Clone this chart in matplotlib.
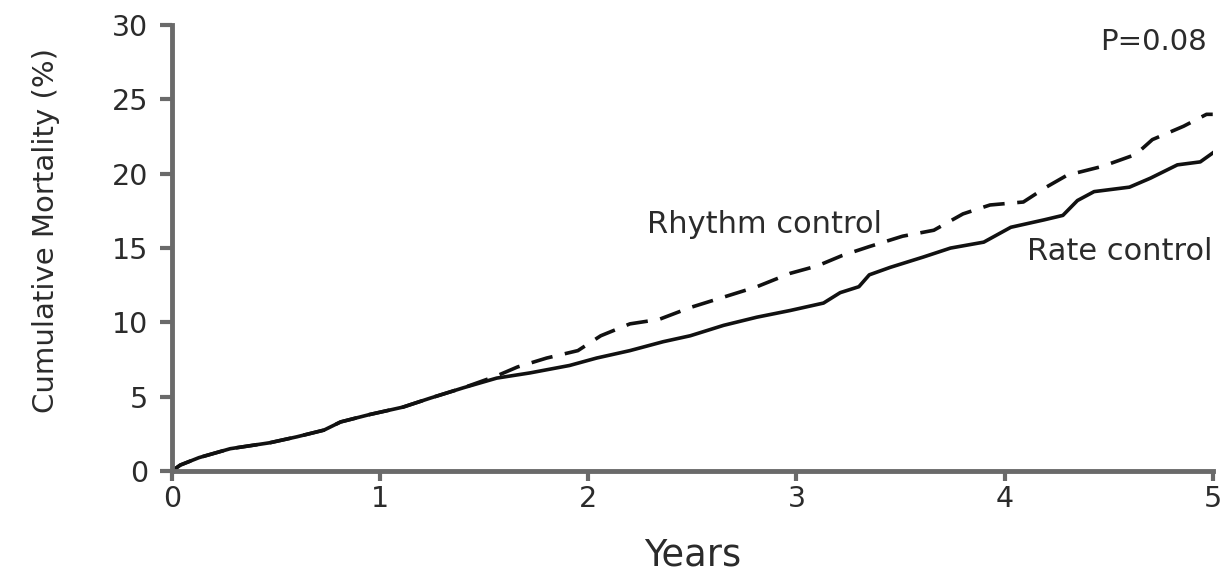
import numpy as np
import matplotlib
matplotlib.use("Agg")
import matplotlib.pyplot as plt

# Rate control (solid)
rate_years = [0, 0.04, 0.13, 0.28, 0.47, 0.60, 0.73, 0.81, 0.95, 1.11, 1.24, 1.40, 1.56,
              1.72, 1.91, 2.04, 2.20, 2.36, 2.49, 2.65, 2.81, 2.97, 3.13, 3.21, 3.30, 3.35,
              3.45, 3.61, 3.74, 3.90, 4.03, 4.19, 4.28, 4.35, 4.43, 4.60, 4.70, 4.83, 4.94, 5.0]
rate_mort = [0, 0.4, 0.9, 1.5, 1.9, 2.3, 2.75, 3.3, 3.8, 4.3, 4.9, 5.6, 6.25,
             6.6, 7.1, 7.6, 8.1, 8.7, 9.1, 9.8, 10.35, 10.8, 11.3, 12.0, 12.4, 13.2,
             13.7, 14.4, 15.0, 15.4, 16.4, 16.9, 17.2, 18.2, 18.8, 19.1, 19.7, 20.6, 20.8, 21.4]

# Rhythm control (dashed)
rhythm_years = [0, 0.04, 0.13, 0.28, 0.47, 0.60, 0.73, 0.81, 0.95, 1.11, 1.24, 1.40, 1.56,
                1.66, 1.80, 1.95, 2.06, 2.20, 2.34, 2.49, 2.65, 2.81, 2.97, 3.10, 3.22, 3.35,
                3.51, 3.66, 3.80, 3.93, 4.09, 4.20, 4.30, 4.47, 4.63, 4.71, 4.86, 4.97, 5.0]
rhythm_mort = [0, 0.4, 0.9, 1.5, 1.9, 2.3, 2.75, 3.3, 3.8, 4.3, 4.9, 5.6, 6.4,
               7.0, 7.6, 8.1, 9.1, 9.9, 10.2, 11.0, 11.7, 12.4, 13.3, 13.8, 14.5, 15.1,
               15.8, 16.2, 17.3, 17.9, 18.1, 19.1, 19.9, 20.5, 21.3, 22.3, 23.2, 24.0, 24.0]

x_ticks = [0, 1, 2, 3, 4, 5]
y_ticks = [0, 5, 10, 15, 20, 25, 30]

plt.rcParams['font.family'] = ['DejaVu Sans']
txt = '#2b2b2b'
axc = '#6a6a6a'

fig = plt.figure(figsize=(12.25, 5.72), dpi=100)
ax = fig.add_axes([0.1404, 0.1766, 0.8496, 0.7794])

ax.plot(rate_years, rate_mort, color='#111111', lw=2.6)
ax.plot(rhythm_years, rhythm_mort, color='#111111', lw=2.6, dashes=(6, 3.5))

ax.set_xlim(0, 5)
ax.set_ylim(0, 30)
ax.set_xticks(x_ticks)
ax.set_yticks(y_ticks)

for s in ['top', 'right']:
    ax.spines[s].set_visible(False)
for s in ['left', 'bottom']:
    ax.spines[s].set_color(axc)
    ax.spines[s].set_linewidth(3.5)
ax.tick_params(direction='out', width=3, color=axc, labelsize=20.5, labelcolor=txt)
ax.tick_params(axis='y', length=9, pad=8)
ax.tick_params(axis='x', length=7, pad=3)

ax.set_xlabel('Years', fontsize=26.5, color=txt)
ax.xaxis.set_label_coords(0.5, -0.146)
ax.set_ylabel('Cumulative Mortality (%)', fontsize=21, color=txt)
ax.yaxis.set_label_coords(-0.108, 0.54)

ax.text(2.28, 16.6, 'Rhythm control', fontsize=22, color=txt, va='center')
ax.text(5.0, 14.8, 'Rate control', fontsize=22, color=txt, va='center', ha='right')
ax.text(4.97, 28.9, 'P=0.08', fontsize=21, color=txt, va='center', ha='right')

fig.savefig('out.png', dpi=100)
